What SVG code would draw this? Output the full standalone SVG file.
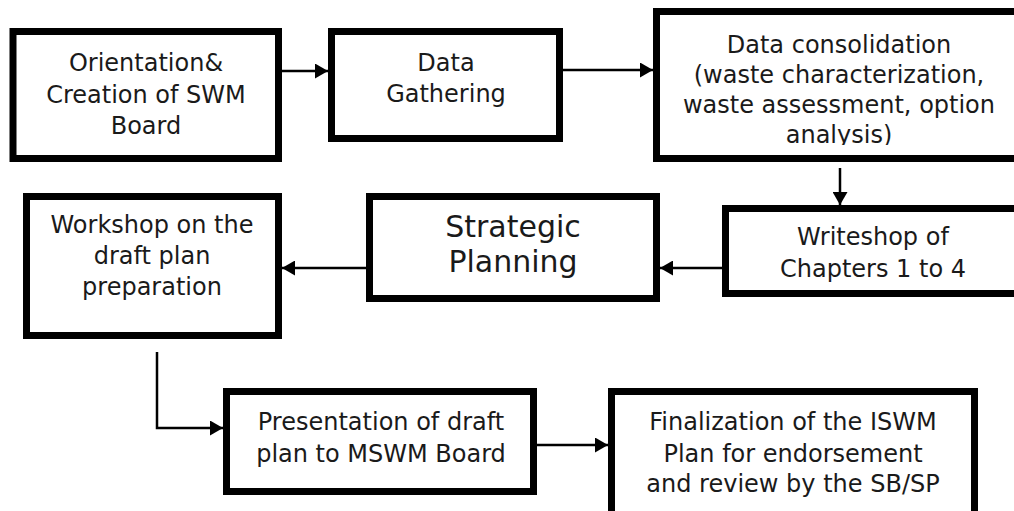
<svg xmlns="http://www.w3.org/2000/svg" width="1014" height="511" viewBox="0 0 1014 511">
<style>
.box{fill:#fff;stroke:#000;stroke-width:7}
.t{font-family:"DejaVu Sans",sans-serif;font-size:24px;fill:#1a1a1a;text-anchor:middle}
.big{font-size:30px}
.c{fill:none;stroke:#000;stroke-width:2.5}
</style>
<defs>
<marker id="ah" markerUnits="userSpaceOnUse" markerWidth="14" markerHeight="15" refX="13" refY="7.5" orient="auto">
<path d="M0,0 L13,7.5 L0,15 Z" fill="#000"/>
</marker>
<clipPath id="clip3"><rect x="650" y="0" width="370" height="145"/></clipPath>
</defs>
<rect width="1014" height="511" fill="#fff"/>
<g id="connectors">
<line class="c" x1="282" y1="71" x2="328" y2="71" marker-end="url(#ah)"/>
<line class="c" x1="563" y1="70" x2="653" y2="70" marker-end="url(#ah)"/>
<line class="c" x1="840" y1="168" x2="840" y2="205" marker-end="url(#ah)"/>
<line class="c" x1="722" y1="268" x2="660" y2="268" marker-end="url(#ah)"/>
<line class="c" x1="366" y1="268" x2="282" y2="268" marker-end="url(#ah)"/>
<path class="c" d="M157,352 L157,428 L223,428" marker-end="url(#ah)"/>
<line class="c" x1="537" y1="445" x2="608" y2="445" marker-end="url(#ah)"/>
</g>
<g id="n1">
<rect class="box" x="13" y="31.5" width="265.5" height="127"/>
<text class="t" x="146" y="71">Orientation&amp;</text>
<text class="t" x="146" y="103">Creation of SWM</text>
<text class="t" x="146" y="134">Board</text>
</g>
<g id="n2">
<rect class="box" x="331.5" y="31.5" width="228" height="107"/>
<text class="t" x="446" y="71">Data</text>
<text class="t" x="446" y="102">Gathering</text>
</g>
<g id="n3">
<rect class="box" x="656.5" y="11.5" width="370" height="147"/>
<g clip-path="url(#clip3)">
<text class="t" x="839" y="53">Data consolidation</text>
<text class="t" x="839" y="83">(waste characterization,</text>
<text class="t" x="839" y="113">waste assessment, option</text>
<text class="t" x="839" y="143">analysis)</text>
</g>
</g>
<g id="n4">
<rect class="box" x="725.5" y="208.5" width="300" height="85"/>
<text class="t" x="873" y="245">Writeshop of</text>
<text class="t" x="873" y="277">Chapters 1 to 4</text>
</g>
<g id="n5">
<rect class="box" x="369.5" y="196.5" width="287" height="102"/>
<text class="t big" x="513" y="237">Strategic</text>
<text class="t big" x="513" y="272">Planning</text>
</g>
<g id="n6">
<rect class="box" x="26.5" y="196.5" width="252" height="139"/>
<text class="t" x="152" y="233">Workshop on the</text>
<text class="t" x="152" y="264">draft plan</text>
<text class="t" x="152" y="295">preparation</text>
</g>
<g id="n7">
<rect class="box" x="226.5" y="391.5" width="307" height="100"/>
<text class="t" x="381" y="430">Presentation of draft</text>
<text class="t" x="381" y="462">plan to MSWM Board</text>
</g>
<g id="n8">
<rect class="box" x="611.5" y="391.5" width="363" height="130"/>
<text class="t" x="793" y="430">Finalization of the ISWM</text>
<text class="t" x="793" y="462">Plan for endorsement</text>
<text class="t" x="793" y="492">and review by the SB/SP</text>
</g>
</svg>
